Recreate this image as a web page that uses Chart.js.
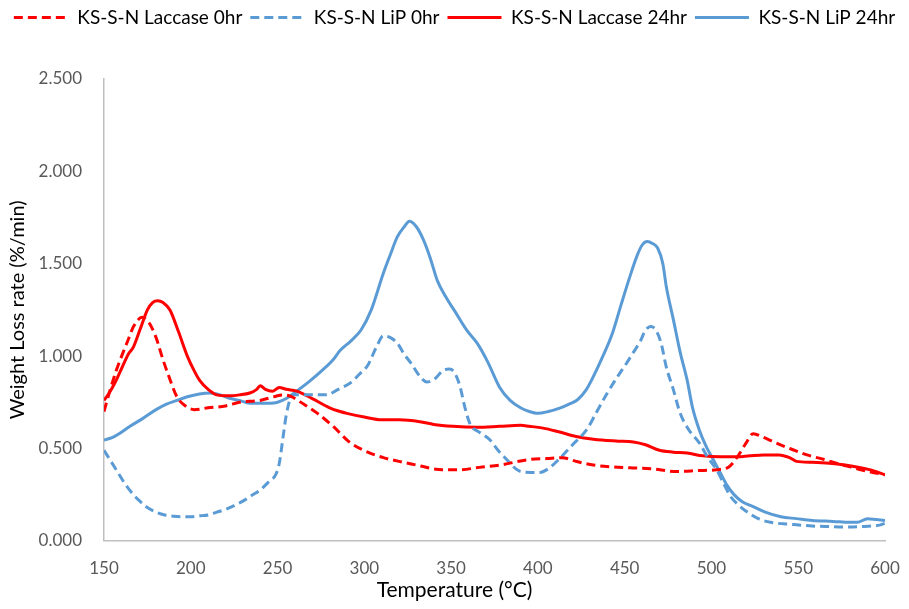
<!DOCTYPE html>
<html>
<head>
<meta charset="utf-8">
<script src="https://cdn.jsdelivr.net/npm/chart.js@4.4.1/dist/chart.umd.min.js"></script>
<style>
  html, body { margin: 0; padding: 0; background: #fff; }
  #wrap { width: 909px; height: 609px; }
</style>
</head>
<body>
<div id="wrap"><canvas id="dtgChart"></canvas></div>
<script>
// Temperature (°C) and weight loss rate (%/min)
const lac0T = [150,153,157,161,164,167,172,176,180,184,187,192,197,202,210,220,228,240,248,253,258,265,273,282,292,302,311,320,330,345,355,368,378,395,405,414,422,432,443,453,465,480,492,503,510,515,520,524,530,536,545,555,565,572,580,586,593,600];
const lac0Y = [0.70,0.80,0.92,1.02,1.09,1.16,1.21,1.18,1.10,0.98,0.90,0.78,0.73,0.71,0.72,0.73,0.75,0.76,0.78,0.79,0.78,0.74,0.69,0.62,0.53,0.48,0.45,0.43,0.41,0.385,0.385,0.40,0.41,0.44,0.445,0.45,0.43,0.41,0.40,0.395,0.39,0.375,0.38,0.385,0.40,0.455,0.53,0.58,0.56,0.535,0.50,0.465,0.44,0.42,0.40,0.385,0.37,0.357];

const lip0T = [150,154,158,162,166,170,175,180,185,190,195,200,205,210,215,220,225,230,235,240,245,249,251,253,255,257,259,265,272,278,285,292,297,302,307,311,315,319,323,327,332,336,341,345,349,352,355,358,361,366,372,377,382,386,390,396,401,406,412,420,428,434,440,446,451,455,459,462,465,468,471,474,478,482,487,493,498,503,507,511,516,520,527,534,545,558,568,578,588,597,600];
const lip0Y = [0.49,0.43,0.37,0.31,0.26,0.22,0.18,0.155,0.14,0.133,0.13,0.13,0.135,0.14,0.155,0.17,0.19,0.215,0.245,0.275,0.32,0.36,0.42,0.55,0.68,0.76,0.79,0.79,0.79,0.79,0.82,0.855,0.90,0.95,1.05,1.11,1.10,1.07,1.01,0.96,0.89,0.86,0.88,0.92,0.93,0.91,0.84,0.72,0.63,0.59,0.55,0.49,0.44,0.40,0.375,0.37,0.37,0.39,0.44,0.52,0.60,0.70,0.80,0.89,0.96,1.02,1.08,1.14,1.16,1.14,1.07,0.94,0.82,0.69,0.60,0.53,0.45,0.385,0.31,0.24,0.19,0.16,0.12,0.10,0.09,0.08,0.077,0.075,0.078,0.085,0.095];

const lac24T = [150,153,156,160,164,167,171,175,178,181,184,188,193,198,202,205,210,215,222,228,234,238,240,243,247,251,255,261,270,280,286,290,300,310,320,332,340,351,365,378,390,395,403,412,422,432,445,455,462,470,478,486,495,505,515,522,530,539,545,549,558,568,577,586,593,600];
const lac24Y = [0.76,0.80,0.85,0.93,1.01,1.05,1.15,1.25,1.29,1.30,1.29,1.25,1.13,1.00,0.92,0.87,0.82,0.79,0.785,0.79,0.80,0.82,0.84,0.82,0.81,0.83,0.82,0.81,0.77,0.72,0.70,0.69,0.67,0.655,0.655,0.645,0.63,0.62,0.615,0.62,0.625,0.62,0.61,0.59,0.565,0.55,0.54,0.535,0.52,0.49,0.48,0.475,0.46,0.455,0.455,0.46,0.465,0.465,0.45,0.43,0.425,0.42,0.41,0.395,0.38,0.357];

const lip24T = [150,155,158,165,172,180,186,192,198,205,211,217,223,228,234,240,246,250,255,261,268,276,282,286,292,298,304,311,315,319,323,326,330,334,338,342,347,353,359,365,371,378,384,390,395,400,406,413,418,423,428,432,437,443,448,453,457,460,463,466,469,472,474,478,482,486,489,493,497,501,505,509,513,518,524,531,540,549,558,570,580,584,590,595,600];
const lip24Y = [0.545,0.56,0.575,0.62,0.66,0.71,0.74,0.76,0.78,0.795,0.80,0.79,0.77,0.76,0.745,0.745,0.745,0.75,0.77,0.81,0.86,0.925,0.98,1.03,1.08,1.14,1.25,1.45,1.55,1.645,1.70,1.73,1.70,1.63,1.53,1.41,1.32,1.23,1.14,1.07,0.97,0.83,0.76,0.72,0.70,0.69,0.70,0.72,0.74,0.765,0.82,0.89,0.99,1.125,1.28,1.43,1.54,1.60,1.62,1.61,1.585,1.50,1.375,1.20,1.02,0.87,0.725,0.60,0.51,0.44,0.37,0.30,0.25,0.21,0.185,0.155,0.13,0.12,0.11,0.105,0.10,0.10,0.12,0.115,0.11];

const seriesNames = ['KS-S-N Laccase 0hr', 'KS-S-N LiP 0hr', 'KS-S-N Laccase 24hr', 'KS-S-N LiP 24hr'];

const RED = '#FF0000';
const BLUE = '#5B9BD5';
const FONT = 'Lato, "Open Sans", sans-serif';

function pts(xs, ys) {
    return xs.map((x, i) => ({ x: x, y: ys[i] }));
}

function lineSet(label, xs, ys, color, dashed) {
    return {
        label: label,
        data: pts(xs, ys),
        borderColor: color,
        backgroundColor: color,
        borderWidth: 3,
        borderDash: dashed ? [9, 5] : [],
        pointRadius: 0,
        pointStyle: 'line',
        cubicInterpolationMode: 'monotone',
        fill: false
    };
}

// push the plot area down to where the reference has it
const legendSpace = {
    id: 'legendSpace',
    beforeInit(chart) {
        const fit = chart.legend.fit;
        chart.legend.fit = function () {
            fit.bind(chart.legend)();
            this.height = 79;
        };
    }
};

const ctx = document.getElementById('dtgChart').getContext('2d');
const chart = new Chart(ctx, {
    type: 'line',
    data: {
        datasets: [
            lineSet(seriesNames[0], lac0T, lac0Y, RED, true),
            lineSet(seriesNames[1], lip0T, lip0Y, BLUE, true),
            lineSet(seriesNames[2], lac24T, lac24Y, RED, false),
            lineSet(seriesNames[3], lip24T, lip24Y, BLUE, false)
        ]
    },
    options: {
        responsive: true,
        maintainAspectRatio: false,
        animation: false,
        layout: { padding: 0 },
        plugins: {
            legend: {
                position: 'top',
                labels: {
                    usePointStyle: true,
                    pointStyleWidth: 54,
                    boxWidth: 54,
                    boxHeight: 10,
                    padding: 8,
                    color: '#000',
                    font: { family: FONT, size: 19 },
                    generateLabels(chart) {
                        const items = Chart.defaults.plugins.legend.labels.generateLabels(chart);
                        items.forEach(it => {
                            const ds = chart.data.datasets[it.datasetIndex];
                            it.lineDash = ds.borderDash;
                            it.lineWidth = 3;
                            it.strokeStyle = ds.borderColor;
                        });
                        return items;
                    }
                }
            },
            // x axis title, centred on the whole figure like the reference
            title: {
                display: true,
                position: 'bottom',
                text: 'Temperature (°C)',
                color: '#000',
                padding: { top: 0, bottom: 6 },
                font: { family: FONT, size: 21, weight: 'normal' }
            },
            tooltip: { enabled: false }
        },
        scales: {
            x: {
                type: 'linear',
                min: 150,
                max: 600,
                afterFit(scale) {
                    scale.height = 37;
                    scale.paddingRight = 24;
                },
                grid: { display: false },
                border: { display: true, color: '#BFBFBF', width: 1.5 },
                ticks: {
                    stepSize: 50,
                    padding: 10,
                    color: '#595959',
                    font: { family: FONT, size: 17 }
                }
            },
            y: {
                min: 0,
                max: 2.5,
                afterFit(scale) { scale.width = 104; },
                grid: { display: false },
                border: { display: true, color: '#BFBFBF', width: 1.5 },
                ticks: {
                    stepSize: 0.5,
                    padding: 14,
                    color: '#595959',
                    font: { family: FONT, size: 17 },
                    callback: v => v.toFixed(3)
                },
                title: {
                    display: true,
                    text: 'Weight Loss rate (%/min)',
                    color: '#000',
                    padding: { top: 6, bottom: 4 },
                    font: { family: FONT, size: 20 }
                }
            }
        }
    },
    plugins: [legendSpace]
});
</script>
</body>
</html>
